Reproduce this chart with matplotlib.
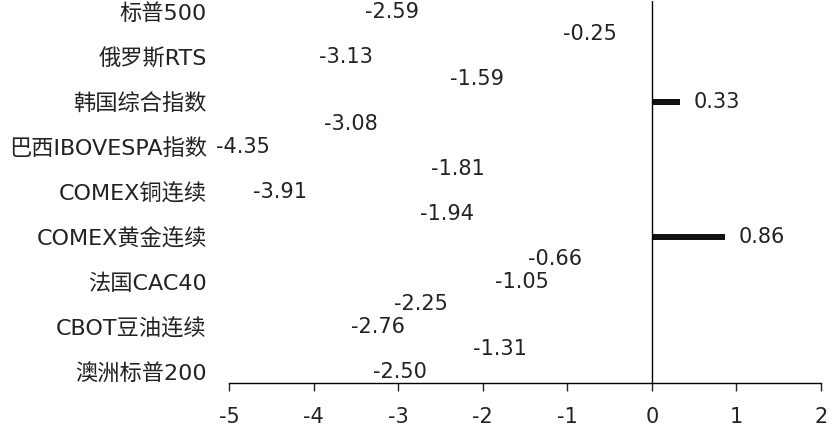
import matplotlib.pyplot as plt
import numpy as np

plt.rcParams['font.family'] = ['DejaVu Sans', 'Noto Sans CJK SC']

# 17 rows, only every other one carries a visible name
categories = ['标普500', '', '俄罗斯RTS', '', '韩国综合指数', '', '巴西IBOVESPA指数', '',
              'COMEX铜连续', '', 'COMEX黄金连续', '', '法国CAC40', '', 'CBOT豆油连续', '',
              '澳洲标普200']
values = [-2.59, -0.25, -3.13, -1.59, 0.33, -3.08, -4.35, -1.81, -3.91, -1.94,
          0.86, -0.66, -1.05, -2.25, -2.76, -1.31, -2.50]
xticks = [-5, -4, -3, -2, -1, 0, 1, 2]

fig = plt.figure(figsize=(8.38, 4.37), dpi=100)
ax = fig.add_axes([0.2733, 0.1236, 0.7064, 0.8748])

y = np.arange(len(values))
colors = ['#111111' if v > 0 else 'none' for v in values]
bars = ax.barh(y, values, height=0.29, color=colors)
ax.bar_label(bars, fmt='%.2f', padding=10, fontsize=15, color='#222222')

ax.axvline(0, color='black', lw=1, zorder=5)

ax.set_xlim(-5, 2)
ax.set_ylim(len(values) - 0.5, -0.5)
ax.set_xticks(xticks)
ax.set_xticklabels([str(t) for t in xticks])
ax.set_yticks(y)
ax.set_yticklabels(categories)

for s in ['top', 'right', 'left']:
    ax.spines[s].set_visible(False)
ax.spines['bottom'].set_linewidth(1)
ax.tick_params(axis='x', direction='out', length=6, width=1, pad=11,
               labelsize=15, colors='#222222')
ax.tick_params(axis='y', length=0, pad=16, labelsize=16, colors='#222222')

plt.savefig('out.png', dpi=100)
plt.close()
